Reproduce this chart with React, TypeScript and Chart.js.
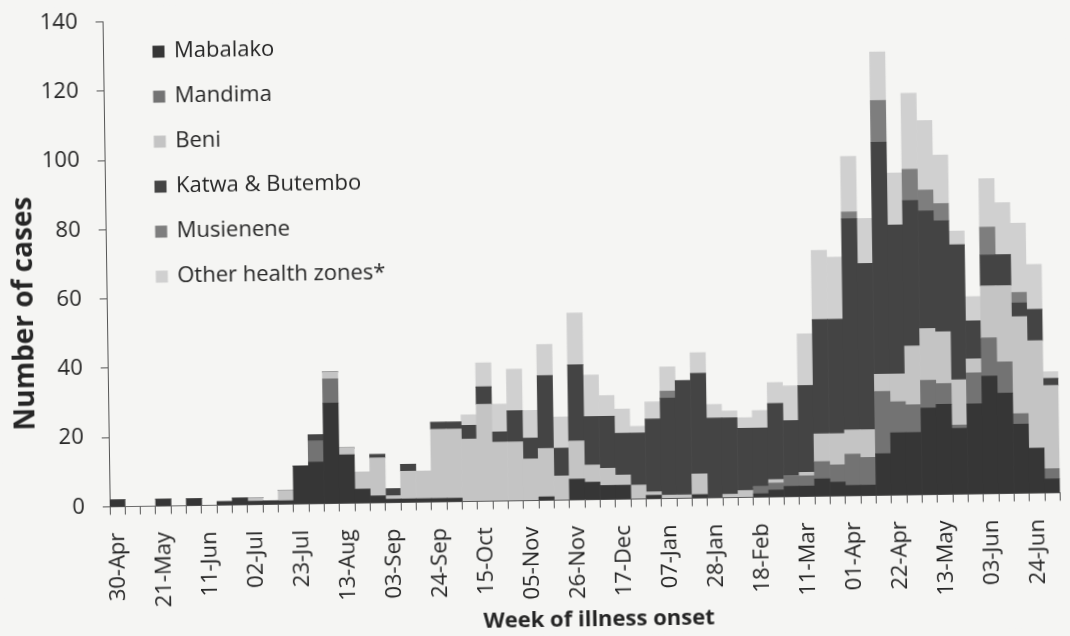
import React, { useEffect, useRef } from "react";
import { Chart, registerables } from "chart.js";

Chart.register(...registerables);

const weeks = [
  "30-Apr", "07-May", "14-May", "21-May", "28-May", "04-Jun", "11-Jun", "18-Jun", "25-Jun",
  "02-Jul", "09-Jul", "16-Jul", "23-Jul", "30-Jul", "06-Aug", "13-Aug", "20-Aug", "27-Aug",
  "03-Sep", "10-Sep", "17-Sep", "24-Sep", "01-Oct", "08-Oct", "15-Oct", "22-Oct", "29-Oct",
  "05-Nov", "12-Nov", "19-Nov", "26-Nov", "03-Dec", "10-Dec", "17-Dec", "24-Dec", "31-Dec",
  "07-Jan", "14-Jan", "21-Jan", "28-Jan", "04-Feb", "11-Feb", "18-Feb", "25-Feb", "04-Mar",
  "11-Mar", "18-Mar", "25-Mar", "01-Apr", "08-Apr", "15-Apr", "22-Apr", "29-Apr", "06-May",
  "13-May", "20-May", "27-May", "03-Jun", "10-Jun", "17-Jun", "24-Jun", "01-Jul",
];

// Cases per week, by health zone
const mabalako = [
  2, 0, 0, 2, 0, 2, 0, 1, 2, 1, 1, 1, 11, 12, 29, 14, 4, 2, 1, 1, 1, 1, 1, 0, 0, 0, 0,
  0, 1, 0, 6, 5, 4, 4, 0, 1, 0, 0, 1, 0, 0, 0, 1, 2, 3, 3, 5, 4, 3, 3, 12, 18, 18, 25,
  26, 19, 26, 34, 29, 20, 13, 4,
];
const mandima = [
  0, 0, 0, 0, 0, 0, 0, 0, 0, 0, 0, 0, 0, 6, 7, 0, 0, 0, 0, 0, 0, 0, 0, 0, 0, 0, 0,
  0, 0, 0, 0, 0, 0, 0, 0, 0, 0, 0, 0, 0, 0, 0, 2, 2, 3, 3, 5, 5, 9, 8, 18, 9, 8, 8,
  6, 1, 9, 11, 9, 3, 0, 3,
];
const beni = [
  0, 0, 0, 0, 0, 0, 0, 0, 0, 1, 0, 3, 0, 0, 2, 2, 5, 11, 1, 8, 8, 20, 20, 18, 28, 17, 17,
  12, 14, 7, 11, 5, 5, 3, 4, 1, 1, 1, 6, 0, 1, 2, 0, 1, 0, 1, 8, 9, 7, 8, 5, 8, 17, 15,
  15, 13, 4, 15, 22, 28, 31, 24,
];
const katwaButembo = [
  0, 0, 0, 0, 0, 0, 0, 0, 0, 0, 0, 0, 0, 2, 0, 0, 0, 1, 2, 2, 0, 2, 2, 4, 5, 3, 9,
  6, 21, 8, 22, 14, 15, 12, 15, 21, 28, 33, 29, 23, 22, 18, 17, 22, 16, 25, 33, 33, 61, 48, 67, 43, 42, 34,
  32, 39, 11, 9, 9, 4, 9, 2,
];
const musienene = [
  0, 0, 0, 0, 0, 0, 0, 0, 0, 0, 0, 0, 0, 0, 0, 0, 0, 0, 0, 0, 0, 0, 0, 0, 0, 0, 0,
  0, 0, 0, 0, 0, 0, 0, 0, 0, 2, 0, 0, 0, 0, 0, 0, 0, 0, 0, 0, 0, 2, 0, 12, 0, 9, 6,
  5, 0, 0, 8, 0, 3, 0, 0,
];
const otherZones = [
  0, 0, 0, 0, 0, 0, 0, 0, 0, 0, 0, 0, 0, 0, 0, 0, 0, 0, 0, 0, 0, 0, 0, 3, 7, 8, 12,
  8, 9, 9, 15, 12, 6, 7, 2, 5, 7, 0, 6, 4, 2, 3, 5, 6, 10, 15, 20, 18, 16, 13, 14, 15, 22, 20,
  14, 4, 7, 14, 15, 20, 13, 2,
];

const seriesNames = ["Mabalako", "Mandima", "Beni", "Katwa & Butembo", "Musienene", "Other health zones*"];
const seriesValues = [mabalako, mandima, beni, katwaButembo, musienene, otherZones];
const seriesColors = ["#363636", "#737373", "#c4c4c4", "#444444", "#7e7e7e", "#d0d0d0"];

const xTitle = "Week of illness onset";
const yTitle = "Number of cases";

const BG = "#f5f5f3";
const TEXT = "#262626";
const AXIS = "#555555";
const FONT = "'Open Sans', 'Noto Sans', sans-serif";

export default function App() {
  const ref = useRef<HTMLCanvasElement | null>(null);

  useEffect(() => {
    document.body.style.margin = "0";
    document.body.style.background = BG;
    const canvas = ref.current;
    if (!canvas) return;
    Chart.defaults.font.family = FONT;

    const overlay = {
      id: "legendAndTitles",
      afterDraw(chart: any) {
        const c = chart.ctx as CanvasRenderingContext2D;
        const area = chart.chartArea;
        c.save();
        c.font = `22px ${FONT}`;
        c.textAlign = "left";
        c.textBaseline = "alphabetic";
        chart.data.datasets.forEach((ds: any, i: number) => {
          const base = area.top + 36.5 + i * 45;
          c.fillStyle = ds.backgroundColor;
          c.fillRect(area.left + 49.5, base - 12, 12, 12);
          c.fillStyle = TEXT;
          c.fillText(ds.label, area.left + 71, base);
        });
        c.fillStyle = TEXT;
        c.textAlign = "center";
        c.font = `bold 22px ${FONT}`;
        c.fillText(xTitle, 594.6, 627);
        c.translate(33, 306);
        c.rotate(-Math.PI / 2);
        c.font = `bold 28px ${FONT}`;
        c.fillText(yTitle, 0, 0);
        c.restore();
      },
    };

    const chart = new Chart(canvas, {
      type: "bar",
      data: {
        labels: weeks,
        datasets: seriesNames.map((name, i) => ({
          label: name,
          data: seriesValues[i],
          backgroundColor: seriesColors[i],
          borderWidth: 0,
          barPercentage: 1,
          categoryPercentage: 1,
        })),
      },
      options: {
        animation: false,
        responsive: false,
        devicePixelRatio: 1,
        layout: { padding: { top: 15.6, right: 12.6, left: 0, bottom: 0 } },
        plugins: {
          legend: { display: false },
          tooltip: { enabled: false },
        },
        scales: {
          x: {
            stacked: true,
            offset: true,
            grid: {
              offset: true,
              drawOnChartArea: false,
              drawTicks: true,
              tickLength: 8,
              color: AXIS,
            },
            border: { display: true, color: AXIS, width: 1 },
            ticks: {
              autoSkip: false,
              maxRotation: 90,
              minRotation: 90,
              padding: 18,
              color: TEXT,
              font: { size: 22 },
              callback: (_v: any, i: number) => (i % 3 === 0 ? weeks[i] : ""),
            },
            afterFit: (s: any) => {
              s.height = 135.5;
              s.paddingLeft = 0;
              s.paddingRight = 0;
            },
          },
          y: {
            stacked: true,
            min: 0,
            max: 140,
            ticks: { stepSize: 20, padding: 18, color: TEXT, font: { size: 22 } },
            grid: { drawOnChartArea: false, tickLength: 7, color: AXIS },
            border: { display: true, color: AXIS, width: 1 },
            afterFit: (s: any) => {
              s.width = 107;
              s.paddingTop = 0;
              s.paddingBottom = 0;
            },
          },
        },
      },
      plugins: [overlay],
    });

    return () => chart.destroy();
  }, []);

  return (
    <div
      style={{
        position: "fixed",
        left: 0,
        top: 0,
        width: 1070,
        height: 636,
        background: BG,
        transform: "rotate(-0.85deg)",
        transformOrigin: "535px 318px",
      }}
    >
      <canvas ref={ref} width={1070} height={636} style={{ display: "block" }} />
    </div>
  );
}
